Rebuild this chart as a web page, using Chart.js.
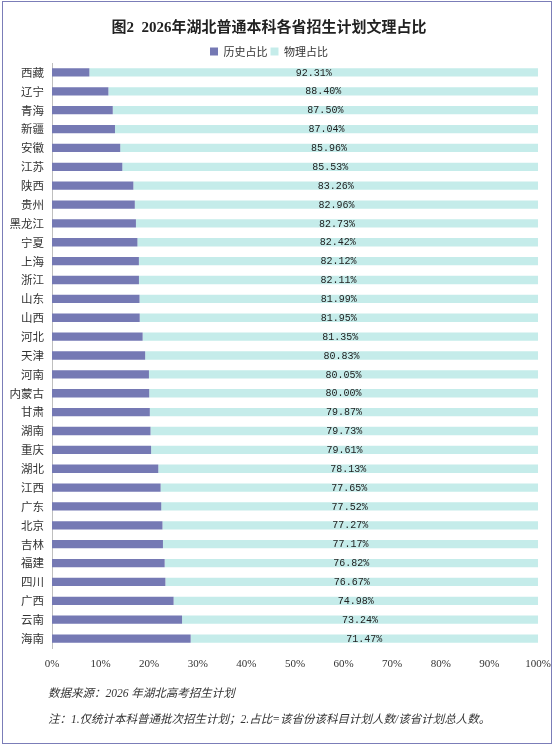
<!DOCTYPE html>
<html><head><meta charset="utf-8">
<script src="https://cdn.jsdelivr.net/npm/chart.js@4"></script>
<style>
html,body{margin:0;padding:0;background:#fff;}
#wrap{position:absolute;left:0;top:0;width:554px;height:745px;}
#frame{position:absolute;left:2px;top:1px;width:548px;height:741px;border:1.5px solid #7b7db8;pointer-events:none;}
#c{position:absolute;left:0;top:0;}
.note{position:absolute;left:48px;font-family:"Liberation Serif","Noto Sans CJK SC",serif;font-style:italic;font-size:11.5px;color:#333;}
</style></head>
<body>
<div id="wrap">
<canvas id="c" width="554" height="745"></canvas>
<div id="frame"></div>
<div class="note" style="top:684px;">数据来源：2026 年湖北高考招生计划</div>
<div class="note" style="top:710px;">注：1.仅统计本科普通批次招生计划；2.占比=该省份该科目计划人数/该省计划总人数。</div>
</div>
<script>
const provinces = ["西藏","辽宁","青海","新疆","安徽","江苏","陕西","贵州","黑龙江","宁夏","上海","浙江","山东","山西","河北","天津","河南","内蒙古","甘肃","湖南","重庆","湖北","江西","广东","北京","吉林","福建","四川","广西","云南","海南"];
const historyShare = [7.69,11.60,12.50,12.96,14.04,14.47,16.74,17.04,17.27,17.58,17.88,17.89,18.01,18.05,18.65,19.17,19.95,20.00,20.13,20.27,20.39,21.87,22.35,22.48,22.73,22.83,23.18,23.33,25.02,26.76,28.53];
const physicsShare = [92.31,88.40,87.50,87.04,85.96,85.53,83.26,82.96,82.73,82.42,82.12,82.11,81.99,81.95,81.35,80.83,80.05,80.00,79.87,79.73,79.61,78.13,77.65,77.52,77.27,77.17,76.82,76.67,74.98,73.24,71.47];
const xTicks = [0,10,20,30,40,50,60,70,80,90,100];
const seriesNames = ["历史占比","物理占比"];
const chartTitle = "图2  2026年湖北普通本科各省招生计划文理占比";

const labelPlugin = {
  id:'physLabels',
  beforeLayout(chart){
    const lg = chart.legend;
    if (lg && !lg._patched){
      const f = lg.fit;
      lg.fit = function(){ f.call(this); this.height -= 4; };
      lg._patched = true;
    }
  },
  afterDatasetsDraw(chart){
    const meta = chart.getDatasetMeta(1);
    const ctx = chart.ctx;
    ctx.save();
    ctx.font = '10px "Liberation Mono", monospace';
    ctx.fillStyle = '#222';
    ctx.textAlign = 'center';
    ctx.textBaseline = 'middle';
    meta.data.forEach((el,i)=>{
      const p = el.getProps(['x','y','base'],true);
      ctx.fillText(physicsShare[i].toFixed(2)+'%', (p.x+p.base)/2, p.y+0.5);
    });
    ctx.restore();
  }
};

new Chart(document.getElementById('c'),{
  type:'bar',
  data:{
    labels:provinces,
    datasets:[
      {label:seriesNames[0],data:historyShare,backgroundColor:'#7579b4',borderWidth:0,barPercentage:0.44,categoryPercentage:1},
      {label:seriesNames[1],data:physicsShare,backgroundColor:'#c5ecea',borderWidth:0,barPercentage:0.44,categoryPercentage:1}
    ]
  },
  options:{
    indexAxis:'y',
    responsive:false,
    animation:false,
    devicePixelRatio:1,
    layout:{padding:{left:0,right:16,top:0,bottom:67}},
    plugins:{
      title:{display:true,text:chartTitle,color:'#222',font:{family:'"Liberation Serif","Noto Sans CJK SC",serif',size:15,weight:'bold'},padding:{top:19,bottom:6}},
      legend:{display:true,labels:{boxWidth:8,boxHeight:8,color:'#333',font:{family:'"Noto Sans CJK SC",sans-serif',size:11},padding:3}},
      tooltip:{enabled:false}
    },
    scales:{
      x:{stacked:true,min:0,max:100,
        afterBuildTicks(s){s.ticks=xTicks.map(v=>({value:v}));},
        afterFit(s){s.height=30;s.paddingRight=0;s.paddingLeft=0;},
        grid:{display:false,drawTicks:false},
        border:{display:false},
        ticks:{padding:10,color:'#333',font:{family:'"Liberation Serif",serif',size:11},callback:v=>v+'%',maxRotation:0,autoSkip:false}
      },
      y:{stacked:true,
        afterFit(s){s.width=52;},
        grid:{display:false,drawTicks:false},
        border:{display:true,color:'#bfbfbf',width:1},
        ticks:{padding:8,color:'#333',font:{family:'"Noto Sans CJK SC",sans-serif',size:11.5},autoSkip:false}
      }
    }
  },
  plugins:[labelPlugin]
});
</script>
</body></html>
